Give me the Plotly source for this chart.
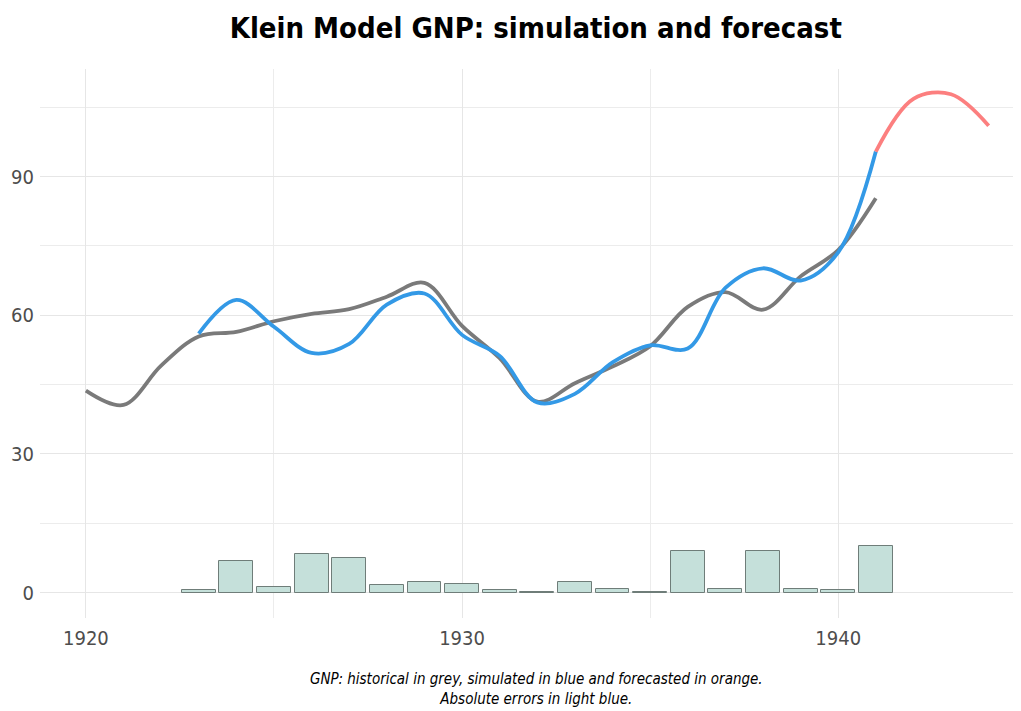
import plotly.graph_objects as go

# Historical GNP (grey)
years_hist = list(range(1920, 1942))
gnp_hist = [43.7, 40.6, 49.1, 55.4, 56.4, 58.7, 60.3, 61.3, 64.0, 67.0, 57.7,
            50.7, 41.3, 45.3, 48.9, 53.3, 61.8, 65.0, 61.2, 68.4, 74.1, 85.3]

# Simulated GNP (blue)
years_sim = list(range(1923, 1942))
gnp_sim = [56.0, 63.3, 57.5, 51.85, 53.8, 62.3, 64.7, 55.75, 51.2, 41.15,
           43.0, 49.8, 53.5, 52.8, 65.9, 70.15, 67.5, 73.6, 95.4]

# Forecasted GNP (orange)
years_fc = [1941, 1942, 1943, 1944]
gnp_fc = [95.4, 106.8, 107.8, 101.0]

hist_map = dict(zip(years_hist, gnp_hist))
abs_err = [abs(s - hist_map[y]) for y, s in zip(years_sim, gnp_sim)]

FONT = "DejaVu Sans Condensed, Roboto, sans-serif"

fig = go.Figure()
fig.add_trace(go.Bar(x=years_sim, y=abs_err, width=0.9,
                     marker=dict(color="#c5e0da", line=dict(color="#6f7d79", width=1)),
                     showlegend=False))
fig.add_trace(go.Scatter(x=years_hist, y=gnp_hist, mode="lines",
                         line=dict(color="#7a7a7a", width=3.8, shape="spline"),
                         showlegend=False))
fig.add_trace(go.Scatter(x=years_sim, y=gnp_sim, mode="lines",
                         line=dict(color="#3399e6", width=3.8, shape="spline"),
                         showlegend=False))
fig.add_trace(go.Scatter(x=years_fc, y=gnp_fc, mode="lines",
                         line=dict(color="#fc7f7f", width=3.8, shape="spline"),
                         showlegend=False))

fig.update_layout(
    width=1013, height=703,
    margin=dict(l=32, r=0, t=61, b=93),
    plot_bgcolor="white", paper_bgcolor="white",
    font=dict(family=FONT, color="#4d4d4d"),
    title=dict(text="<b>Klein Model GNP: simulation and forecast</b>",
               x=0.521, xanchor="center", y=0.9716, yanchor="middle",
               font=dict(family=FONT, size=29, color="black")),
    xaxis=dict(range=[1918.78, 1944.86], tickvals=[1920, 1930, 1940],
               showgrid=True, gridcolor="#e6e6e6", gridwidth=1.1,
               minor=dict(tickvals=[1925, 1935], showgrid=True, gridcolor="#ececec", gridwidth=0.7),
               zeroline=False, showline=False, ticks="", ticklabelstandoff=6,
               tickfont=dict(size=20, color="#4d4d4d")),
    yaxis=dict(range=[-5.48, 113.25], tickvals=[0, 30, 60, 90],
               showgrid=True, gridcolor="#e6e6e6", gridwidth=1.1,
               minor=dict(tickvals=[15, 45, 75, 105], showgrid=True, gridcolor="#ececec", gridwidth=0.7),
               zeroline=False, showline=False, ticks="", ticklabelstandoff=5,
               tickfont=dict(size=20, color="#4d4d4d")),
    bargap=0,
)

fig.add_annotation(text="<i>GNP: historical in grey, simulated in blue and forecasted in orange.<br>Absolute errors in light blue.</i>",
                   xref="paper", yref="paper", x=0.5066, y=-0.091, yanchor="top",
                   showarrow=False, align="center",
                   font=dict(family=FONT, size=15, color="black"))

fig.write_html("out.html")
